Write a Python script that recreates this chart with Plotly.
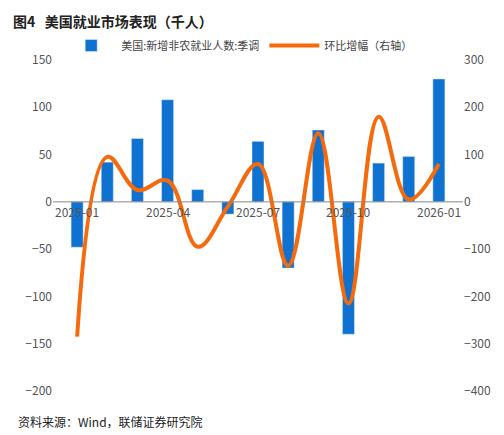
import plotly.graph_objects as go

months = ['2025-01', '2025-02', '2025-03', '2025-04', '2025-05', '2025-06', '2025-07',
          '2025-08', '2025-09', '2025-10', '2025-11', '2025-12', '2026-01']
payrolls = [-48, 42, 67, 108, 13, -13, 64, -70, 76, -140, 41, 48, 130]
mom_change = [-285, 95, 25, 45, -95, -10, 80, -135, 145, -215, 180, 5, 80]
tick_labels = ['2025-01', '2025-04', '2025-07', '2025-10', '2026-01']

font = 'Noto Sans CJK SC'
x = list(range(len(months)))

fig = go.Figure()
fig.add_trace(go.Bar(x=x, y=payrolls, name='美国:新增非农就业人数:季调',
                     marker_color='#0F72D1', width=0.4))
fig.add_trace(go.Scatter(x=x, y=mom_change, name='环比增幅（右轴）', yaxis='y2',
                         mode='lines', line=dict(color='#F46A0C', width=4, shape='spline', smoothing=1.1)))

for m in tick_labels:
    fig.add_annotation(x=months.index(m), y=0, yref='y', text=m, showarrow=False,
                       yshift=-10, font=dict(size=12, color='#555'))

fig.add_shape(type='line', xref='paper', x0=0, x1=1, yref='y', y0=0, y1=0,
              line=dict(color='#888', width=1))

fig.update_layout(
    width=504, height=435,
    margin=dict(l=45, r=49, t=52, b=52),
    plot_bgcolor='white', paper_bgcolor='white',
    font=dict(family=font, size=12, color='#444'),
    title=dict(text='<b>图4   美国就业市场表现（千人）</b>', x=0.01, y=0.98,
               font=dict(size=14, color='#222')),
    showlegend=True,
    legend=dict(orientation='h', x=0.02, y=1.0, xanchor='left', yanchor='bottom',
                font=dict(size=11), itemwidth=50, bgcolor='rgba(0,0,0,0)'),
    bargap=0.5,
    xaxis=dict(range=[-0.8, 12.8], showticklabels=False, showgrid=False, zeroline=False,
               showline=False, ticks=''),
    yaxis=dict(range=[-200, 150], dtick=50, showgrid=False, zeroline=False,
               tickfont=dict(size=12, color='#555')),
    yaxis2=dict(range=[-400, 300], dtick=100, overlaying='y', side='right', showgrid=False,
                zeroline=False, tickfont=dict(size=12, color='#555')),
)
fig.add_annotation(text='资料来源：Wind，联储证券研究院', xref='paper', yref='paper', x=-0.09, y=-0.06,
                   xanchor='left', yanchor='top', showarrow=False, font=dict(size=12, color='#222'))

fig.write_html('out.html')
